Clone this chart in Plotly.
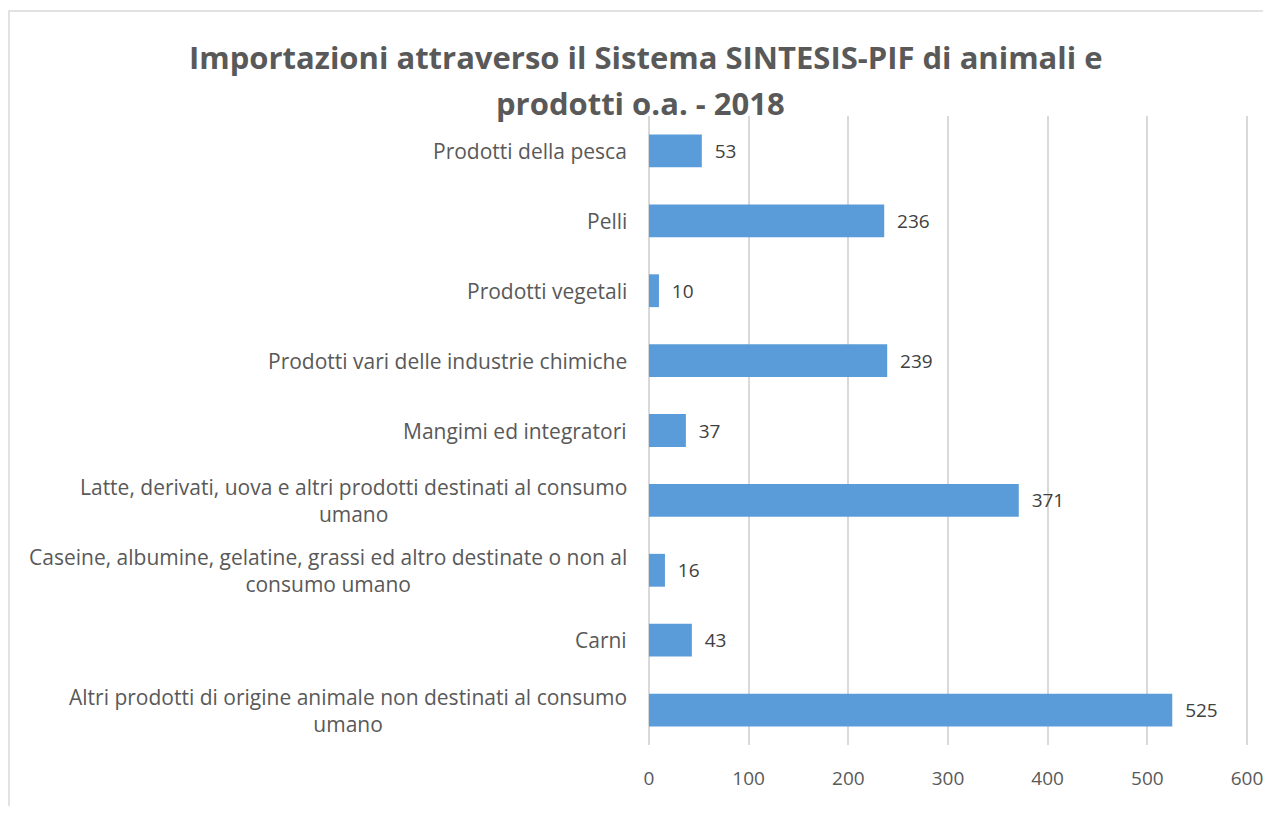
import plotly.graph_objects as go

# Categories listed bottom to top (plotly draws first category at the bottom)
categories = [
    "Altri prodotti di origine animale non destinati al consumo<br>umano",
    "Carni",
    "Caseine, albumine, gelatine, grassi ed altro destinate o non al<br>consumo umano",
    "Latte, derivati, uova e altri prodotti destinati al consumo<br>umano",
    "Mangimi ed integratori",
    "Prodotti vari delle industrie chimiche",
    "Prodotti vegetali",
    "Pelli",
    "Prodotti della pesca",
]
values = [525, 43, 16, 371, 37, 239, 10, 236, 53]

x_ticks = [0, 100, 200, 300, 400, 500, 600]
title_lines = [
    "Importazioni attraverso il Sistema SINTESIS-PIF di animali e",
    "prodotti o.a. - 2018",
]

FONT = "Open Sans"
GREY = "#595959"
BAR_COLOR = "#5a9bd9"

# The page body adds an 8px margin, so the figure is a bit smaller than the window.
# Plot area is padded by 3 px each side so plotly draws the 0 and 600 gridlines.
W, H = 1255, 798
L, R, T, B = 638, 13, 108, 61
plot_w = W - L - R
plot_h = H - T - B

fig = go.Figure()

fig.add_trace(go.Bar(
    x=values,
    y=categories,
    orientation="h",
    width=0.47,
    marker=dict(color=BAR_COLOR, line=dict(width=0)),
    text=values,
    texttemplate="\u00a0\u00a0%{x}",
    textposition="outside",
    cliponaxis=False,
    textfont=dict(family=FONT, size=19, color="#404040"),
    hoverinfo="x+y",
))

# Category labels: right-aligned block, lines centred within it
for cat in categories :
    fig.add_annotation(
        x=0, xref="x",
        y=cat, yref="y",
        text=cat,
        xanchor="right",
        xshift=-20,
        align="center",
        showarrow=False,
        font=dict(family=FONT, size=21, color=GREY),
    )

# Title, two lines with Excel-like spacing
for line, fy, fx in zip(title_lines, [49, 95], [637.5, 632]) :
    fig.add_annotation(
        x=(fx - L) / plot_w, xref="paper",
        y=(H - B - fy) / plot_h, yref="paper",
        text=f"<b>{line}</b>",
        xanchor="center", yanchor="middle",
        showarrow=False,
        font=dict(family=FONT, size=31, color=GREY),
    )

fig.update_layout(
    width=W,
    height=H,
    margin=dict(l=L, r=R, t=T, b=B),
    paper_bgcolor="white",
    plot_bgcolor="white",
    showlegend=False,
    xaxis=dict(
        range=[-3, 603],
        tickvals=x_ticks,
        automargin=False,
        ticklabeloverflow="allow",
        showgrid=True,
        gridcolor="#d9d9d9",
        gridwidth=1.5,
        zeroline=False,
        showline=False,
        ticks="",
        ticklabelstandoff=20,
        tickfont=dict(family=FONT, size=19, color=GREY),
        fixedrange=True,
    ),
    yaxis=dict(
        categoryorder="array",
        categoryarray=categories,
        automargin=False,
        showticklabels=False,
        showgrid=False,
        zeroline=False,
        ticks="",
        fixedrange=True,
    ),
    shapes=[
        # Chart frame (runs past the right / bottom edges)
        dict(
            type="rect", xref="paper", yref="paper",
            x0=(1 - L) / plot_w, x1=1.2,
            y0=-0.3, y1=(H - B - 3) / plot_h,
            line=dict(color="#d9d9d9", width=1.5),
            fillcolor="rgba(0,0,0,0)",
            layer="below",
        ),
    ],
)

fig.write_html("out.html")
